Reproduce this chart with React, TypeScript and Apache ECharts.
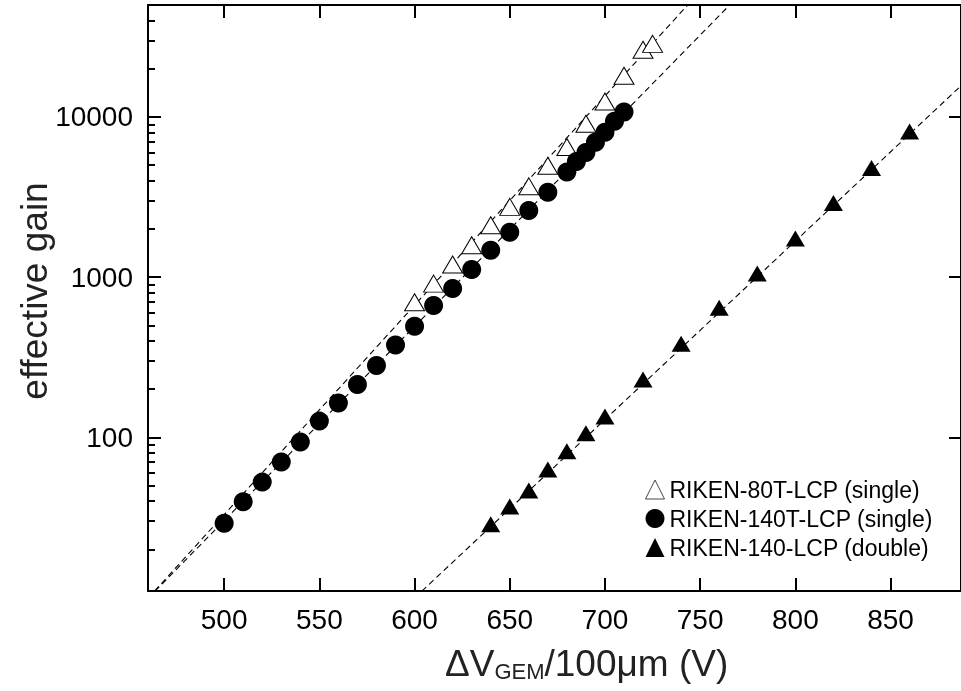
import React, { useEffect, useRef } from 'react';
import * as echarts from 'echarts';

// RIKEN-80T-LCP (single) : open triangles
const voltage80T = [600, 610, 620, 630, 640, 650, 660, 670, 680, 690, 700, 710, 720, 725];
const gain80T = [698, 912, 1199, 1581, 2109, 2747, 3691, 4966, 6500, 9080, 12500, 18100, 26300, 28600];

// RIKEN-140T-LCP (single) : filled circles
const voltage140T = [500, 510, 520, 530, 540, 550, 560, 570, 580, 590, 600, 610, 620, 630, 640, 650, 660, 670, 680, 685, 690, 695, 700, 705, 710];
const gain140T = [29.1, 39.7, 52.6, 70.2, 93.5, 126.4, 164, 214, 281, 377, 494, 665, 849, 1117, 1472, 1906, 2606, 3390, 4540, 5280, 6010, 6950, 8020, 9400, 10750];

// RIKEN-140-LCP (double) : filled triangles
const voltageDouble = [640, 650, 660, 670, 680, 690, 700, 720, 740, 760, 780, 800, 820, 840, 860];
const gainDouble = [28.7, 37.1, 46.6, 63.1, 81.9, 106, 135, 230, 384, 644, 1054, 1742, 2910, 4810, 8130];

// Exponential fit lines (end points)
const fit80T = [[460, 9.9], [746, 54000]];
const fit140T = [[460, 9.9], [768, 53600]];
const fitDouble = [[600, 9.95], [890, 16900]];

const xTicks = [500, 550, 600, 650, 700, 750, 800, 850];
const yLabels = [100, 1000, 10000];

const seriesNames = ['RIKEN-80T-LCP (single)', 'RIKEN-140T-LCP (single)', 'RIKEN-140-LCP (double)'];

const pairs = (xs: number[], ys: number[]) => xs.map((x, i) => [x, ys[i]]);

export default function App() {
  const ref = useRef<HTMLDivElement>(null);
  useEffect(() => {
    if (!ref.current) return;
    const chart = echarts.init(ref.current, null, { renderer: 'svg' });
    const font = '"Liberation Sans", Arial, Helvetica, sans-serif';
    const axisLine = { show: true, onZero: false, lineStyle: { color: '#000', width: 2 } };
    const tickStyle = { color: '#000', width: 2 };
    const dashed = { color: '#000', width: 1.1, type: [6, 4] as number[] };
    chart.setOption({
      animation: false,
      textStyle: { fontFamily: font },
      grid: { left: 148, top: 5, width: 814, height: 586, containLabel: false },
      xAxis: [
        {
          type: 'value', min: 460, max: 887, position: 'bottom',
          axisLine,
          axisTick: { inside: true, length: 13, lineStyle: tickStyle, customValues: xTicks },
          axisLabel: { customValues: xTicks, color: '#000', fontSize: 28, margin: 14, fontFamily: font },
          splitLine: { show: false },
        },
        {
          type: 'value', min: 460, max: 887, position: 'top',
          axisLine,
          axisTick: { inside: true, length: 13, lineStyle: tickStyle, customValues: xTicks },
          axisLabel: { show: false },
          splitLine: { show: false },
        },
      ],
      yAxis: [
        {
          type: 'log', logBase: 10, min: 11, max: 50000, position: 'left',
          axisLine,
          axisTick: { inside: true, length: 13, lineStyle: tickStyle },
          minorTick: { show: true, splitNumber: 9, length: 7, lineStyle: tickStyle },
          axisLabel: {
            color: '#000', fontSize: 28, margin: 15, fontFamily: font,
            formatter: (v: number) => (yLabels.includes(Math.round(v)) ? String(Math.round(v)) : ''),
          },
          splitLine: { show: false },
          minorSplitLine: { show: false },
        },
        {
          type: 'log', logBase: 10, min: 11, max: 50000, position: 'right',
          axisLine,
          axisTick: { inside: true, length: 12, lineStyle: tickStyle },
          axisLabel: { show: false },
          splitLine: { show: false },
        },
      ],
      legend: {
        data: [
          { name: seriesNames[0], itemStyle: { color: '#fff', borderColor: '#444', borderWidth: 1 } },
          { name: seriesNames[1] },
          { name: seriesNames[2] },
        ],
        orient: 'vertical',
        left: 645,
        top: 478,
        padding: 0,
        itemWidth: 19,
        itemHeight: 19,
        itemGap: 6,
        textStyle: { fontSize: 23, color: '#000', fontFamily: font },
      },
      graphic: [
        {
          type: 'text',
          x: 445,
          y: 682,
          style: {
            text: '{a|ΔV}{b|GEM}{a|/100μm (V)}',
            align: 'left',
            verticalAlign: 'bottom',
            rich: {
              a: { fontSize: 37, fontFamily: font, fill: '#222', verticalAlign: 'bottom' },
              b: { fontSize: 22, fontFamily: font, fill: '#222', verticalAlign: 'bottom' },
            },
          },
        },
        {
          type: 'text',
          x: 34,
          y: 291,
          rotation: Math.PI / 2,
          style: {
            text: 'effective gain',
            fontSize: 37,
            fontFamily: font,
            fill: '#222',
            align: 'center',
            verticalAlign: 'middle',
          },
        },
      ],
      series: [
        { name: 'fit 80T', type: 'line', data: fit80T, symbol: 'none', lineStyle: dashed, silent: true, z: 1 },
        { name: 'fit 140T', type: 'line', data: fit140T, symbol: 'none', lineStyle: dashed, silent: true, z: 1 },
        { name: 'fit double', type: 'line', data: fitDouble, symbol: 'none', lineStyle: dashed, silent: true, z: 1 },
        {
          name: seriesNames[0], type: 'scatter', data: pairs(voltage80T, gain80T),
          symbol: 'triangle', symbolSize: [20, 17],
          itemStyle: { color: '#fff', borderColor: '#000', borderWidth: 1, opacity: 1 }, z: 3,
        },
        {
          name: seriesNames[1], type: 'scatter', data: pairs(voltage140T, gain140T),
          symbol: 'circle', symbolSize: 19,
          itemStyle: { color: '#000', opacity: 1 }, z: 4,
        },
        {
          name: seriesNames[2], type: 'scatter', data: pairs(voltageDouble, gainDouble),
          symbol: 'triangle', symbolSize: [19, 16],
          itemStyle: { color: '#000', opacity: 1 }, z: 4,
        },
      ],
    });
    return () => chart.dispose();
  }, []);
  return <div ref={ref} style={{ position: 'fixed', left: 0, top: 0, width: 961, height: 691 }} />;
}
